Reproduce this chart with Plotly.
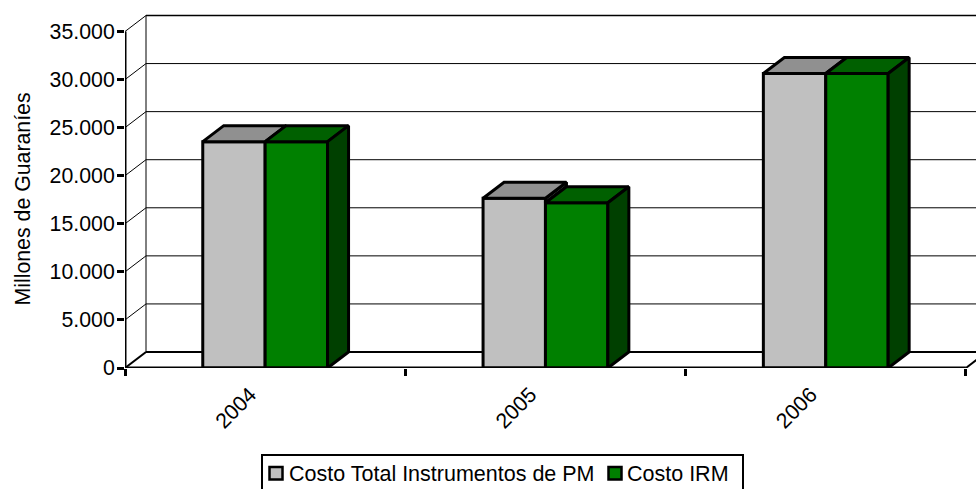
import plotly.graph_objects as go

years = ["2004", "2005", "2006"]
series_names = ["Costo Total Instrumentos de PM", "Costo IRM"]
costo_total = [23540, 17650, 30625]
costo_irm = [23540, 17190, 30625]
y_ticks = [0, 5000, 10000, 15000, 20000, 25000, 30000, 35000]
y_labels = ["0", "5.000", "10.000", "15.000", "20.000", "25.000", "30.000", "35.000"]

FONT = "Liberation Sans"
FS = 21.3
GRAY, GREEN = "#C0C0C0", "#008000"
W, H = 976, 489
ML, MT, MB = 125, 6, 121
PW, PH = W - ML, H - MT - MB
X0, X1 = -0.5, 2.5
XR = 2.536
YR = 37652
DX = 21 / 280.3   # depth of the 3D box, in x units
DY = 1664         # depth of the 3D box, in y units
BW = 0.2226
LW = 3
pos = [0, 1, 2]


def px(v):
    return (v - ML) / PW


def py(v):
    return (H - MB - v) / PH


fig = go.Figure()

fig.add_bar(x=pos, y=costo_total, name=series_names[0], width=BW, offset=-BW, showlegend=False,
            marker=dict(color=GRAY, line=dict(color="black", width=LW)))
fig.add_bar(x=pos, y=costo_irm, name=series_names[1], width=BW, offset=0, showlegend=False,
            marker=dict(color=GREEN, line=dict(color="black", width=LW)))


def polys(rows):
    xs, ys = [], []
    for r in rows:
        xs += [p[0] for p in r] + [r[0][0], None]
        ys += [p[1] for p in r] + [r[0][1], None]
    return xs, ys


def face(rows, color):
    xs, ys = polys(rows)
    fig.add_scatter(x=xs, y=ys, mode="lines", fill="toself", fillcolor=color,
                    line=dict(color="black", width=LW), showlegend=False, hoverinfo="skip")


gray_side, gray_top, green_top, green_side = [], [], [], []
for p, a, b in zip(pos, costo_total, costo_irm):
    l, m, r = p - BW, p, p + BW
    gray_side.append([(m, b), (m, a), (m + DX, a + DY), (m + DX, b + DY)])
    gray_top.append([(l, a), (m, a), (m + DX, a + DY), (l + DX, a + DY)])
    green_top.append([(m, b), (r, b), (r + DX, b + DY), (m + DX, b + DY)])
    green_side.append([(r, 0), (r, b), (r + DX, b + DY), (r + DX, DY)])
face(gray_side, "#606060")
face(gray_top, "#909090")
face(green_top, "#006000")
face(green_side, "#004000")

# Axis lines of the front plane
fig.add_scatter(x=[X0, X0, X1], y=[y_ticks[-1], 0, 0], mode="lines", cliponaxis=False,
                line=dict(color="black", width=LW), showlegend=False, hoverinfo="skip")

shapes = []
for t in y_ticks[1:]:
    w = 1.5 if t == y_ticks[-1] else 1
    shapes.append(dict(type="line", xref="x", yref="y", x0=X0 + DX, x1=XR, y0=t + DY, y1=t + DY,
                       line=dict(color="black", width=w), layer="below"))
    shapes.append(dict(type="line", xref="x", yref="y", x0=X0, x1=X0 + DX, y0=t, y1=t + DY,
                       line=dict(color="black", width=1), layer="below"))
shapes.append(dict(type="line", xref="x", yref="y", x0=X0 + DX, x1=X0 + DX, y0=DY, y1=y_ticks[-1] + DY,
                   line=dict(color="black", width=1), layer="below"))
shapes.append(dict(type="line", xref="x", yref="y", x0=X0 + DX, x1=XR, y0=DY, y1=DY,
                   line=dict(color="black", width=2), layer="below"))
shapes.append(dict(type="line", xref="x", yref="y", x0=X0, x1=X0 + DX, y0=0, y1=DY,
                   line=dict(color="black", width=2), layer="below"))
shapes.append(dict(type="line", xref="x", yref="y", x0=X1, x1=X1 + DX, y0=0, y1=DY,
                   line=dict(color="black", width=2), layer="below"))
# Legend box, cut by the page bottom as in the reference
shapes.append(dict(type="rect", xref="paper", yref="paper", x0=px(262), x1=px(743),
                   y0=py(500), y1=py(455),
                   line=dict(color="black", width=2), fillcolor="rgba(0,0,0,0)", layer="above"))
annotations = [dict(xref="paper", yref="paper", x=px(22), y=py(199.5), text="Millones de Guaraníes",
                    textangle=-90, xanchor="center", yanchor="middle", showarrow=False,
                    font=dict(size=FS))]
for name, color, sw, tx in [(series_names[0], GRAY, 269.5, 289), (series_names[1], GREEN, 608.5, 627)]:
    shapes.append(dict(type="rect", xref="paper", yref="paper", x0=px(sw), x1=px(sw + 13),
                       y0=py(479.5), y1=py(467), fillcolor=color,
                       line=dict(color="black", width=2.5), layer="above"))
    annotations.append(dict(xref="paper", yref="paper", x=px(tx), y=py(473.5), text=name,
                            xanchor="left", yanchor="middle", showarrow=False, xshift=-1,
                            font=dict(size=21.5), borderpad=0))

fig.update_layout(
    width=W, height=H, autosize=False,
    margin=dict(l=ML, r=0, t=MT, b=MB),
    paper_bgcolor="white", plot_bgcolor="white",
    font=dict(family=FONT, size=FS, color="black"),
    barmode="overlay", showlegend=False,
    shapes=shapes, annotations=annotations,
    xaxis=dict(range=[X0, XR], tickmode="array", tickvals=pos, ticktext=years, tickangle=-45,
               ticks="", showgrid=False, zeroline=False, showline=False,
               ticklabelstandoff=9, ticklabelshift=-15,
               minor=dict(tickmode="array", tickvals=[-0.5, 0.5, 1.5, 2.5], ticks="outside",
                          ticklen=7, tickwidth=LW, tickcolor="black", showgrid=False)),
    yaxis=dict(range=[0, YR], tickmode="array", tickvals=y_ticks, ticktext=y_labels,
               ticks="outside", ticklen=7, tickwidth=LW, tickcolor="black", ticklabelstandoff=-2,
               showgrid=False, zeroline=False, showline=False),
)

fig.write_html("out.html", config={"displayModeBar": False},
               post_script="document.body.style.margin='0';document.documentElement.style.overflow='hidden';")
